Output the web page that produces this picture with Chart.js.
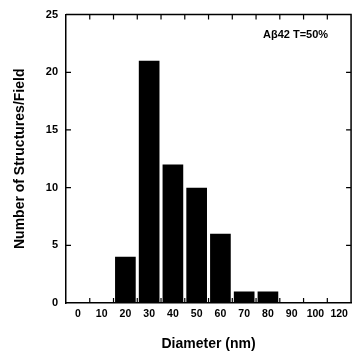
<!DOCTYPE html>
<html>
<head>
<meta charset="utf-8">
<script src="https://cdn.jsdelivr.net/npm/chart.js@4/dist/chart.umd.min.js"></script>
<style>
  html, body { margin: 0; padding: 0; background: #fff; }
  #wrap { width: 353px; height: 358px; }
</style>
</head>
<body>
<div id="wrap"><canvas id="chart"></canvas></div>
<script>
// --- Data ---
const diameters = ['0', '10', '20', '30', '40', '50', '60', '70', '80', '90', '100', '120']
const counts = [0, 0, 4, 21, 12, 10, 6, 1, 1, 0, 0, 0]
const yTicks = [0, 5, 10, 15, 20, 25]
const label = 'A\u03b242 T=50%'

const FONT = '"Liberation Sans", Arial, Helvetica, sans-serif'

// frame on top/right + inward tick marks on all four sides
const framePlugin = {
  id: 'frame',
  afterDraw(chart) {
    const { ctx, chartArea: a, scales: { x, y } } = chart
    const tl = 5
    ctx.save()
    ctx.strokeStyle = '#000'
    ctx.lineWidth = 1.5
    ctx.beginPath()
    ctx.moveTo(a.left, a.top)
    ctx.lineTo(a.right, a.top)
    ctx.lineTo(a.right, a.bottom)
    ctx.stroke()

    ctx.lineWidth = 1.2
    ctx.beginPath()
    for (let i = 1; i < diameters.length; i++) {
      const px = (x.getPixelForValue(i - 1) + x.getPixelForValue(i)) / 2
      ctx.moveTo(px, a.bottom)
      ctx.lineTo(px, a.bottom - tl)
      ctx.moveTo(px, a.top)
      ctx.lineTo(px, a.top + tl)
    }
    yTicks.slice(1, -1).forEach(v => {
      const py = y.getPixelForValue(v)
      ctx.moveTo(a.left, py)
      ctx.lineTo(a.left + tl, py)
      ctx.moveTo(a.right, py)
      ctx.lineTo(a.right - tl, py)
    })
    ctx.stroke()

    ctx.fillStyle = '#000'
    ctx.font = 'bold 11px ' + FONT
    ctx.textAlign = 'right'
    ctx.textBaseline = 'middle'
    ctx.fillText(label, a.right - 23, a.top + 20)
    ctx.restore()
  }
}

new Chart(document.getElementById('chart'), {
  type: 'bar',
  data: {
    labels: diameters,
    datasets: [{
      data: counts,
      backgroundColor: '#000',
      borderColor: '#000',
      borderWidth: 0,
      barPercentage: 0.87,
      categoryPercentage: 1
    }]
  },
  options: {
    responsive: true,
    maintainAspectRatio: false,
    animation: false,
    layout: { padding: { top: 14, right: 1, left: 0, bottom: 0 } },
    plugins: {
      legend: { display: false },
      tooltip: { enabled: false }
    },
    scales: {
      x: {
        grid: { display: false, drawTicks: false },
        border: { display: true, color: '#000', width: 1.5 },
        ticks: {
          color: '#000',
          padding: 5,
          maxRotation: 0,
          autoSkip: false,
          font: { family: FONT, size: 10.5, weight: 'bold' }
        },
        title: {
          display: true,
          text: 'Diameter (nm)',
          color: '#000',
          padding: { top: 4, bottom: 5 },
          font: { family: FONT, size: 14, weight: 'bold' }
        },
        afterFit(scale) { scale.height = 55 }
      },
      y: {
        min: 0,
        max: 25,
        grid: { display: false, drawTicks: false },
        border: { display: true, color: '#000', width: 1.5 },
        afterBuildTicks(scale) { scale.ticks = yTicks.map(v => ({ value: v })) },
        ticks: {
          color: '#000',
          padding: 8,
          font: { family: FONT, size: 11, weight: 'bold' }
        },
        title: {
          display: true,
          text: 'Number of Structures/Field',
          color: '#000',
          padding: { top: 12, bottom: 4 },
          font: { family: FONT, size: 14, weight: 'bold' }
        },
        afterFit(scale) { scale.width = 66 }
      }
    }
  },
  plugins: [framePlugin]
})
</script>
</body>
</html>
